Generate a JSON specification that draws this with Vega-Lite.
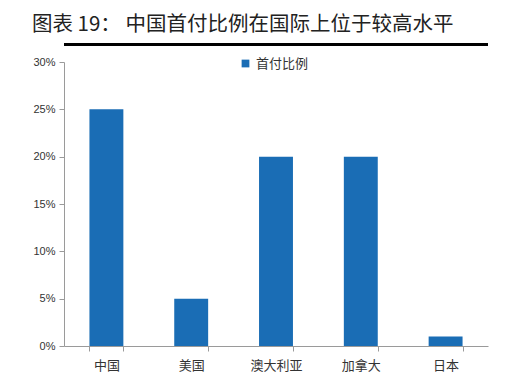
{
  "$schema": "https://vega.github.io/schema/vega-lite/v6.json",
  "width": 424,
  "height": 284,
  "autosize": "none",
  "padding": {"left": 64, "top": 62, "right": 20, "bottom": 31},
  "background": "white",
  "title": {
    "text": "图表 19：   中国首付比例在国际上位于较高水平",
    "anchor": "start",
    "frame": "group",
    "dx": -32,
    "offset": 7,
    "font": "Noto Sans CJK SC",
    "fontSize": 20.5,
    "fontWeight": "normal",
    "color": "#222222"
  },
  "config": {
    "view": {"stroke": null},
    "font": "Noto Sans CJK SC"
  },
  "datasets": {
    "bars": [
      {"country": "中国", "series": "首付比例", "value": 0.25},
      {"country": "美国", "series": "首付比例", "value": 0.05},
      {"country": "澳大利亚", "series": "首付比例", "value": 0.20},
      {"country": "加拿大", "series": "首付比例", "value": 0.20},
      {"country": "日本", "series": "首付比例", "value": 0.01}
    ]
  },
  "layer": [
    {
      "data": {"name": "bars"},
      "mark": {"type": "bar"},
      "encoding": {
        "x": {
          "field": "country",
          "type": "nominal",
          "sort": null,
          "title": null,
          "scale": {"paddingInner": 0.6, "paddingOuter": 0.3},
          "axis": {
            "labelAngle": 0,
            "labelFontSize": 13,
            "labelColor": "#333333",
            "labelPadding": 8,
            "domainColor": "#9a9a9a",
            "tickColor": "#9a9a9a",
            "tickBand": "extent",
            "tickSize": 5
          }
        },
        "y": {
          "field": "value",
          "type": "quantitative",
          "title": null,
          "scale": {"domain": [0, 0.3]},
          "axis": {
            "format": ".0%",
            "values": [0, 0.05, 0.1, 0.15, 0.2, 0.25, 0.3],
            "grid": false,
            "labelFontSize": 11,
            "labelFont": "Liberation Sans",
            "labelColor": "#333333",
            "domainColor": "#9a9a9a",
            "tickColor": "#9a9a9a",
            "tickSize": 5,
            "labelPadding": 4
          }
        },
        "color": {
          "field": "series",
          "type": "nominal",
          "scale": {"range": ["#1a6db5"]},
          "legend": {
            "title": null,
            "orient": "none",
            "legendX": 175,
            "legendY": -5,
            "symbolType": "square",
            "symbolSize": 60,
            "labelFontSize": 13,
            "labelColor": "#333333"
          }
        }
      }
    },
    {
      "data": {"values": [{}]},
      "mark": {"type": "rule", "color": "black", "strokeWidth": 3},
      "encoding": {"y": {"datum": 0.3185, "type": "quantitative"}}
    }
  ]
}
